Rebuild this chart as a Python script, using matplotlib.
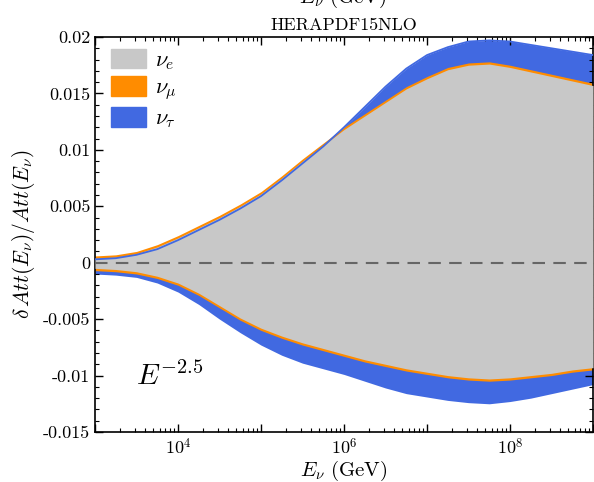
import numpy as np
import matplotlib
matplotlib.use("Agg")
import matplotlib.pyplot as plt
from matplotlib.patches import Patch
from matplotlib.ticker import FixedLocator, LogLocator, MultipleLocator, NullFormatter, FixedFormatter

plt.rcParams['mathtext.fontset'] = 'cm'
plt.rcParams['font.family'] = ['cmr10', 'DejaVu Serif']
plt.rcParams['axes.unicode_minus'] = False

# log10(E / GeV)
log_E = [3.0, 3.25, 3.5, 3.75, 4.0, 4.25, 4.5, 4.75, 5.0, 5.25, 5.5, 5.75, 6.0,
         6.25, 6.5, 6.75, 7.0, 7.25, 7.5, 7.75, 8.0, 8.25, 8.5, 8.75, 9.0]

nu_mu_upper = [0.0006, 0.0007, 0.0010, 0.0016, 0.0024, 0.0033, 0.0042, 0.0052, 0.0063, 0.0077,
               0.0092, 0.0106, 0.0120, 0.0132, 0.0144, 0.0156, 0.0165, 0.0173, 0.0177, 0.0178,
               0.0175, 0.0171, 0.0167, 0.0163, 0.0159]
nu_mu_lower = [-0.0007, -0.0008, -0.0010, -0.0014, -0.0020, -0.0029, -0.0040, -0.0051, -0.0060, -0.0067,
               -0.0073, -0.0078, -0.0083, -0.0088, -0.0092, -0.0096, -0.0099, -0.0102, -0.0104, -0.0105,
               -0.0104, -0.0102, -0.0100, -0.0097, -0.0095]

nu_tau_upper = [0.0003, 0.0004, 0.0007, 0.0012, 0.0020, 0.0029, 0.0038, 0.0048, 0.0059, 0.0073,
                0.0088, 0.0103, 0.0120, 0.0138, 0.0156, 0.0172, 0.0184, 0.0191, 0.0196, 0.0197,
                0.0196, 0.0193, 0.0190, 0.0187, 0.0184]
nu_tau_lower = [-0.0010, -0.0011, -0.0013, -0.0018, -0.0026, -0.0037, -0.0050, -0.0062, -0.0073, -0.0082,
                -0.0089, -0.0094, -0.0099, -0.0105, -0.0111, -0.0116, -0.0119, -0.0122, -0.0124, -0.0125,
                -0.0123, -0.0120, -0.0116, -0.0112, -0.0108]

nu_e_upper = [0.0004, 0.0005, 0.0008, 0.0014, 0.0022, 0.0031, 0.0040, 0.0050, 0.0061, 0.0075,
              0.0090, 0.0104, 0.0118, 0.0130, 0.0142, 0.0154, 0.0163, 0.0171, 0.0175, 0.0176,
              0.0173, 0.0169, 0.0165, 0.0161, 0.0157]
nu_e_lower = [-0.0005, -0.0006, -0.0008, -0.0012, -0.0018, -0.0027, -0.0038, -0.0049, -0.0058, -0.0065,
              -0.0071, -0.0076, -0.0081, -0.0086, -0.0090, -0.0094, -0.0097, -0.0100, -0.0102, -0.0103,
              -0.0102, -0.0100, -0.0098, -0.0095, -0.0093]

y_ticks = [0.02, 0.015, 0.01, 0.005, 0.0, -0.005, -0.01, -0.015]
y_tick_labels = ["0.02", "0.015", "0.01", "0.005", "0", "-0.005", "-0.01", "-0.015"]
x_label_decades = [4, 6, 8]

E = 10.0 ** np.array(log_E)

fig = plt.figure(figsize=(5.94, 4.82), dpi=100)
ax = fig.add_axes([95/594, 1 - 432/482, 498/594, 395/482])

c_e, c_mu, c_tau = '#c8c8c8', '#ff8c00', '#4169e1'

ax.fill_between(E, nu_tau_lower, nu_tau_upper, color=c_tau, lw=0, zorder=1)
ax.fill_between(E, nu_mu_lower, nu_mu_upper, color=c_mu, lw=0, zorder=2)
ax.fill_between(E, nu_e_lower, nu_e_upper, color=c_e, lw=0, zorder=3)
ax.plot(E, nu_tau_upper, color=c_tau, lw=1.3, zorder=4)
ax.axhline(0, color='#666666', lw=1.5, ls=(0, (6, 4)), zorder=5)

ax.set_xscale('log')
ax.set_xlim(1.0e3, 1.0e9)
ax.set_ylim(-0.015, 0.02)

ax.xaxis.set_major_locator(FixedLocator([10.0**k for k in range(3, 10)]))
ax.xaxis.set_major_formatter(FixedFormatter(
    ['$10^{%d}$' % k if k in x_label_decades else '' for k in range(3, 10)]))
ax.xaxis.set_minor_locator(LogLocator(base=10, subs=np.arange(2, 10), numticks=20))
ax.xaxis.set_minor_formatter(NullFormatter())

ax.yaxis.set_major_locator(FixedLocator(y_ticks))
ax.yaxis.set_major_formatter(FixedFormatter(y_tick_labels))
ax.yaxis.set_minor_locator(MultipleLocator(0.001))

ax.tick_params(which='both', direction='in', top=True, right=True)
ax.tick_params(axis='y', labelsize=13)
ax.tick_params(axis='x', labelsize=13)
ax.tick_params(which='major', length=6, width=1.0)
ax.tick_params(which='minor', length=3, width=0.8)
for s in ax.spines.values():
    s.set_linewidth(1.2)

ax.set_xlabel(r'$E_\nu\ \mathrm{(GeV)}$', fontsize=15, labelpad=1)
ax.set_ylabel(r'$\delta\, Att(E_\nu)/Att(E_\nu)$', fontsize=15.5, labelpad=4)
ax.set_title('HERAPDF15NLO', fontsize=13, pad=5)
fig.text(343/594, 1 - 3/482, r'$E_\nu\ \mathrm{(GeV)}$', fontsize=15, ha='center', va='baseline')

ax.text(0.082, 0.12, r'$E^{-2.5}$', transform=ax.transAxes, fontsize=21, zorder=6)

handles = [Patch(color=c_e), Patch(color=c_mu), Patch(color=c_tau)]
ax.legend(handles, [r'$\nu_e$', r'$\nu_\mu$', r'$\nu_\tau$'], loc='upper left',
          frameon=False, fontsize=16, handlelength=1.6, handleheight=0.95,
          labelspacing=0.22, handletextpad=0.4, borderaxespad=0.3,
          bbox_to_anchor=(0.0, 1.01))

fig.savefig('out.png', dpi=100)
